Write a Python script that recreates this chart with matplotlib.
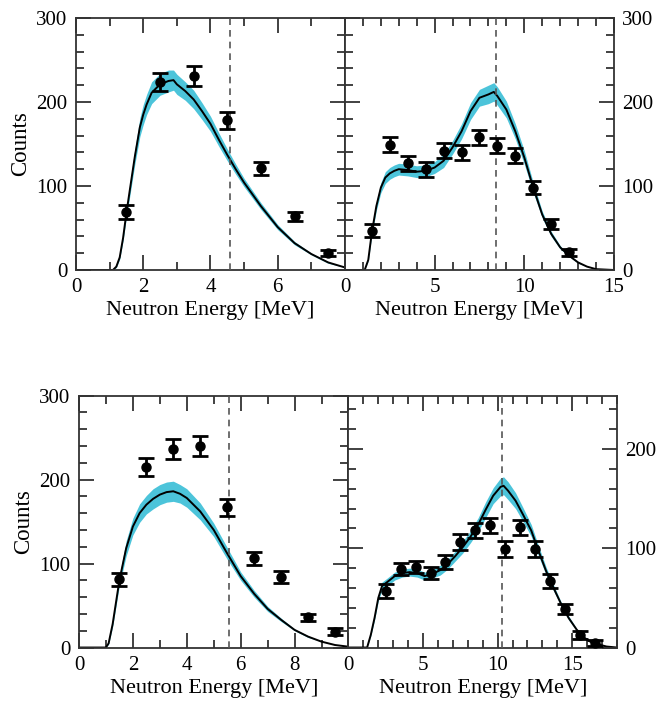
import numpy as np
import matplotlib.pyplot as plt
from matplotlib.ticker import MultipleLocator

plt.rcParams['font.family'] = ['Liberation Serif', 'DejaVu Serif']

# ---- datos: panel superior izquierdo ----
tl_x = [0, 1.0, 1.1, 1.2, 1.3, 1.4, 1.5, 1.6, 1.75, 1.9, 2.0, 2.1, 2.25, 2.5, 2.75, 2.9,
        3.0, 3.25, 3.5, 3.75, 4.0, 4.25, 4.5, 4.75, 5.0, 5.5, 6.0, 6.5, 7.0, 7.5, 8.0]
tl_y = [0, 0, 0, 4, 15, 38, 68, 95, 135, 170, 185, 197, 211, 221, 225, 226,
        221, 213, 203, 189, 174, 155, 137, 120, 104, 76, 51, 32, 19, 9, 3]
tl_err = [0, 0, 0, 1, 2, 3, 5, 7, 9, 11, 12, 12, 13, 13, 13, 12,
          12, 11, 11, 10, 9, 8, 7, 6, 5, 4, 3, 2, 1, 1, 0]
tl_px = [1.5, 2.5, 3.5, 4.5, 5.5, 6.5, 7.5]
tl_py = [69, 224, 231, 178, 121, 64, 20]
tl_pe = [8, 11, 12, 10, 8, 5.5, 3.5]
tl_corte = 4.58

# ---- panel superior derecho ----
tr_x = [0, 1.1, 1.3, 1.5, 1.75, 2.0, 2.25, 2.5, 2.75, 3.0, 3.5, 4.0, 4.5, 5.0, 5.5, 6.0,
        6.5, 7.0, 7.5, 8.0, 8.3, 8.5, 9.0, 9.5, 10.0, 10.5, 11.0, 11.5, 12.0, 12.5,
        13.0, 13.5, 14.0, 15.0]
tr_y = [0, 0, 12, 45, 76, 98, 110, 115, 118, 120, 119, 117, 118, 122, 130, 146,
        165, 189, 205, 209, 212, 207, 191, 165, 134, 98, 66, 43, 27, 17,
        9, 4, 1, 0]
tr_err = [0, 0, 1, 3, 5, 6, 7, 7, 7, 7, 7, 7, 7, 7, 8, 8,
          9, 10, 10, 11, 11, 11, 10, 9, 8, 6, 4, 3, 2, 1,
          1, 0, 0, 0]
tr_px = [1.5, 2.5, 3.5, 4.5, 5.5, 6.5, 7.5, 8.5, 9.5, 10.5, 11.5, 12.5]
tr_py = [47, 149, 127, 120, 142, 140, 158, 148, 136, 98, 55, 21]
tr_pe = [8, 9, 9, 9, 9, 9, 9, 9, 9, 8, 6, 4]
tr_corte = 8.42

# ---- panel inferior izquierdo ----
bl_x = [0, 1.0, 1.1, 1.25, 1.5, 1.75, 2.0, 2.25, 2.5, 2.75, 3.0, 3.25, 3.5, 3.75, 4.0,
        4.5, 5.0, 5.5, 6.0, 6.5, 7.0, 7.5, 8.0, 8.5, 9.0, 9.5, 10.0]
bl_y = [0, 0, 5, 28, 80, 118, 144, 160, 170, 177, 182, 185, 186, 183, 178,
        162, 140, 112, 85, 64, 46, 33, 21, 13, 7, 3, 1]
bl_err = [0, 0, 1, 3, 6, 9, 10, 11, 11, 12, 12, 12, 12, 11, 11,
          10, 8, 7, 5, 4, 3, 2, 1, 1, 0, 0, 0]
bl_px = [1.5, 2.5, 3.5, 4.5, 5.5, 6.5, 7.5, 8.5, 9.5]
bl_py = [81, 215, 236, 240, 167, 106, 84, 36, 19]
bl_pe = [8, 11, 12, 12, 10, 8, 7, 4.5, 4]
bl_corte = 5.57

# ---- panel inferior derecho ----
br_x = [0, 1.25, 1.5, 1.75, 2.0, 2.25, 2.6, 3.1, 3.6, 4.1, 4.6, 5.1, 5.6, 6.15, 6.65,
        7.15, 7.65, 8.15, 8.7, 9.2, 9.7, 10.2, 10.4, 10.7, 11.2, 11.7, 12.25, 12.75,
        13.25, 13.75, 14.25, 14.75, 15.3, 15.8, 16.3, 16.8, 17.3, 18.0]
br_y = [0, 0, 13, 30, 50, 62, 66, 72, 75, 76, 75, 72, 74, 78, 84,
        92, 101, 111, 124, 139, 153, 162, 163, 158, 148, 134, 118, 97,
        77, 60, 44, 30, 18, 10, 5, 3, 1, 0]
br_err = [0, 0, 1, 2, 3, 4, 4, 4, 4, 4, 4, 4, 4, 5, 5,
          5, 6, 6, 7, 8, 8, 9, 9, 9, 8, 7, 6, 5,
          4, 3, 2, 2, 1, 1, 0, 0, 0, 0]
br_px = [2.5, 3.5, 4.5, 5.5, 6.5, 7.5, 8.5, 9.5, 10.5, 11.5, 12.5, 13.5, 14.5, 15.5, 16.5]
br_py = [57, 79, 81, 75, 86, 106, 118, 123, 99, 121, 99, 67, 39, 13, 5]
br_pe = [7, 6, 6, 6, 7, 8, 8, 8, 8, 8, 8, 7, 5, 4, 3]
br_corte = 10.27

banda = '#4CC4DA'

fig = plt.figure(figsize=(6.62, 7.02), dpi=100)
ax_tl = fig.add_axes([0.1148, 0.6154, 0.4063, 0.359])
ax_tr = fig.add_axes([0.5211, 0.6154, 0.4063, 0.359])
ax_bl = fig.add_axes([0.1193, 0.0776, 0.4071, 0.359])
ax_br = fig.add_axes([0.5264, 0.0776, 0.4056, 0.359])


def dibujar(ax, x, y, err, px, py, pe, corte):
    x = np.array(x)
    y = np.array(y)
    err = np.array(err)
    ax.fill_between(x, y - err, y + err, color=banda, lw=0, zorder=1)
    ax.plot(x, y, color='black', lw=1.4, zorder=2)
    ax.axvline(corte, color='#555555', lw=1.2, ls=(0, (4, 3)), zorder=3)
    ax.errorbar(px, py, yerr=pe, fmt='o', color='black', ms=6.5,
                capsize=6, capthick=2, elinewidth=2, zorder=4)


dibujar(ax_tl, tl_x, tl_y, tl_err, tl_px, tl_py, tl_pe, tl_corte)
dibujar(ax_tr, tr_x, tr_y, tr_err, tr_px, tr_py, tr_pe, tr_corte)
dibujar(ax_bl, bl_x, bl_y, bl_err, bl_px, bl_py, bl_pe, bl_corte)
dibujar(ax_br, br_x, br_y, br_err, br_px, br_py, br_pe, br_corte)

# Ejes y marcas
ax_tl.set_xlim(0, 8)
ax_tl.set_ylim(0, 300)
ax_tl.set_xticks([0, 2, 4, 6])

ax_tr.set_xlim(0, 15)
ax_tr.set_ylim(0, 300)
ax_tr.set_xticks([0, 5, 10, 15])

ax_bl.set_xlim(0, 10)
ax_bl.set_ylim(0, 300)
ax_bl.set_xticks([0, 2, 4, 6, 8])

ax_br.set_xlim(0, 18)
ax_br.set_ylim(0, 254)
ax_br.set_xticks([0, 5, 10, 15])

for ax in [ax_tl, ax_tr, ax_bl]:
    ax.set_yticks([0, 100, 200, 300])
ax_br.set_yticks([0, 100, 200])

for ax in [ax_tl, ax_tr, ax_bl, ax_br]:
    ax.xaxis.set_minor_locator(MultipleLocator(1))
    ax.yaxis.set_minor_locator(MultipleLocator(20))
    ax.tick_params(which='both', direction='in', top=True, right=True,
                   width=1.3, color='#333333', labelsize=15, pad=6)
    ax.tick_params(which='major', length=11)
    ax.tick_params(which='minor', length=5.5)
    for s in ax.spines.values():
        s.set_linewidth(1.3)
        s.set_color('#333333')
    ax.set_xlabel('Neutron Energy [MeV]', fontsize=16, labelpad=3)

for ax in [ax_tr, ax_br]:
    ax.tick_params(labelleft=False, labelright=True)

ax_tl.set_ylabel('Counts', fontsize=16.5, labelpad=4)
ax_bl.set_ylabel('Counts', fontsize=16.5, labelpad=4)

plt.savefig('out.png', dpi=100)
